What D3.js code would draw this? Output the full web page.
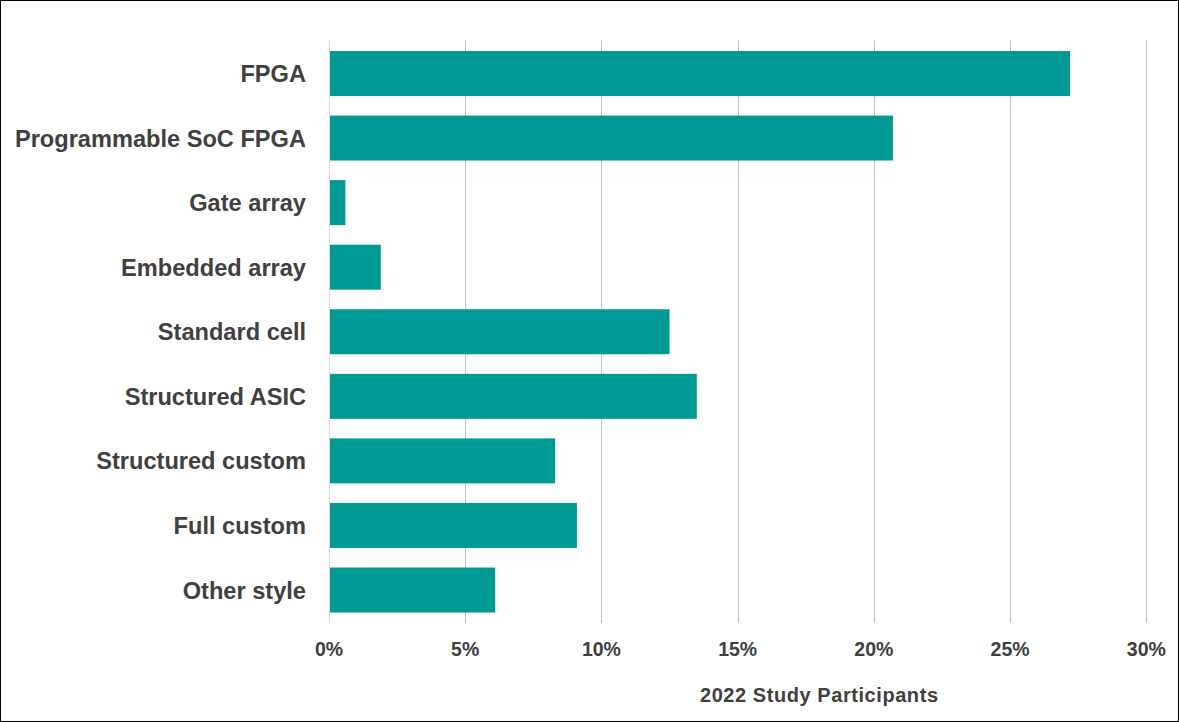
<!DOCTYPE html>
<html>
<head>
<meta charset="utf-8">
<script src="https://cdn.jsdelivr.net/npm/d3@7"></script>
<style>
  html, body { margin: 0; padding: 0; background: #fff; }
  svg { display: block; font-family: "Liberation Sans", Arial, sans-serif; }
</style>
</head>
<body>
<svg></svg>
<script>
var categories = ["FPGA", "Programmable SoC FPGA", "Gate array", "Embedded array",
    "Standard cell", "Structured ASIC", "Structured custom", "Full custom", "Other style"];
var values = [27.2, 20.7, 0.6, 1.9, 12.5, 13.5, 8.3, 9.1, 6.1];
var tickValues = [0, 5, 10, 15, 20, 25, 30];
var axisTitle = "2022 Study Participants";

var width = 1179,
    height = 722,
    svg = d3.select("svg").attr("width", width).attr("height", height);

var x = d3.scaleLinear().domain([0, 30]).range([329, 1146.3]);
var y = d3.scaleBand().domain(categories).range([41.2, 622.3]).paddingInner(0.303).paddingOuter(0.1515);

// outer frame
svg.append("rect")
    .attr("x", 0.5).attr("y", 0.5)
    .attr("width", width - 1).attr("height", height - 1)
    .attr("fill", "none").attr("stroke", "#000").attr("stroke-width", 1);

// gridlines
svg.append("g").selectAll("line")
    .data(tickValues)
    .join("line")
    .attr("x1", d => Math.round(x(d)) + 0.5)
    .attr("x2", d => Math.round(x(d)) + 0.5)
    .attr("y1", 40)
    .attr("y2", 623)
    .attr("stroke", d => d === 0 ? "#d9d9d9" : "#bfbfbf")
    .attr("stroke-width", 1);

// bars
svg.append("g").selectAll("rect")
    .data(categories)
    .join("rect")
    .attr("x", x(0) + 1)
    .attr("y", d => y(d))
    .attr("width", (d, i) => x(values[i]) - x(0) - 1)
    .attr("height", y.bandwidth())
    .attr("fill", "#009a95");

// category labels
svg.append("g").selectAll("text")
    .data(categories)
    .join("text")
    .attr("x", 306)
    .attr("y", d => y(d) + y.bandwidth() / 2)
    .attr("dy", "0.36em")
    .attr("text-anchor", "end")
    .attr("font-size", 23.6)
    .attr("font-weight", "bold")
    .attr("fill", "#404040")
    .text(d => d);

// tick labels
svg.append("g").selectAll("text")
    .data(tickValues)
    .join("text")
    .attr("x", d => x(d))
    .attr("y", 656)
    .attr("text-anchor", "middle")
    .attr("font-size", 19.5)
    .attr("font-weight", "bold")
    .attr("fill", "#404040")
    .text(d => d + "%");

// axis title
svg.append("text")
    .attr("x", 700)
    .attr("y", 702)
    .attr("font-size", 20)
    .attr("font-weight", "bold")
    .attr("fill", "#404040")
    .attr("textLength", 238)
    .text(axisTitle);
</script>
</body>
</html>
